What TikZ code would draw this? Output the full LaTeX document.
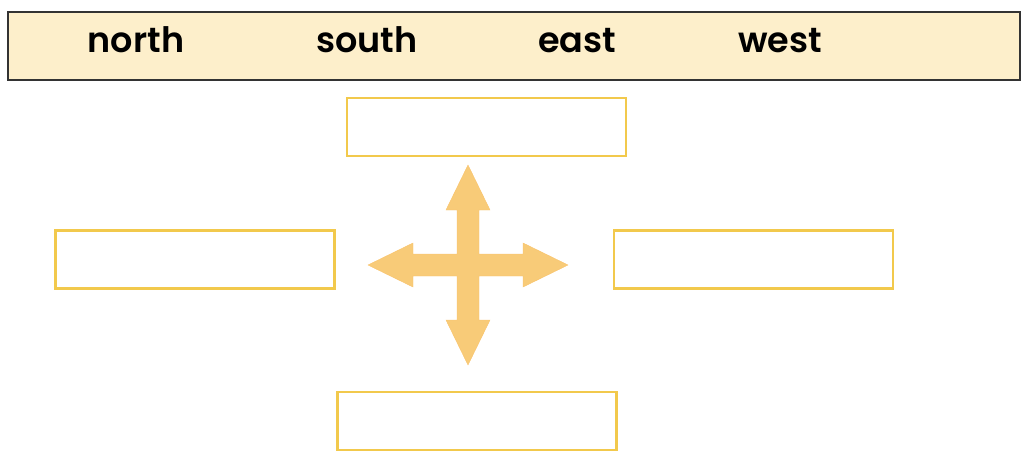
\documentclass[tikz,border=0pt]{standalone}
\usepackage{fontspec}
\setmainfont{Poppins}
\newfontfamily\labelfont{Poppins SemiBold}
\usetikzlibrary{positioning, calc}

\definecolor{bannerfill}{HTML}{FDEFCB}
\definecolor{boxline}{HTML}{F2C94C}
\definecolor{crossfill}{HTML}{F8CB78}

\begin{document}
\begin{tikzpicture}[x=1pt, y=-1pt]
\tikzset{
  banner/.style={draw=black!80, line width=1.3pt, fill=bannerfill, minimum width=1012pt, minimum height=68pt, inner sep=0pt},
  word/.style={anchor=base, inner sep=0pt, font=\labelfont\fontsize{35}{40}\selectfont},
  blank/.style={draw=boxline, line width=2.6pt, minimum width=279pt, minimum height=58pt, inner sep=0pt}
}
\useasboundingbox (0,0) rectangle (1022,450);

% header strip
\node[banner] (bar) at (514,46) {};
\node[word] (n) at (136,52) {north};
\node[word] (s) at (367,52) {south};
\node[word] (e) at (577,52) {east};
\node[word] (w) at (780,52) {west};

% empty answer boxes
\node[blank] (top)    at (486.5,127) {};
\node[blank] (left)   at (195,259.5) {};
\node[blank] (right)  at (753.5,259.5) {};
\node[blank] (bottom) at (477,421) {};

% four-way arrow
\coordinate (hub) at (468,265);
\fill[crossfill, draw=crossfill!90!orange, line width=0.4pt]
  ($(hub)+(0,-100)$) -- ++(22,45) -- ++(-11,0) -- ++(0,44) -- ++(44,0) -- ++(0,-11)
  -- ++(45,22) -- ++(-45,22) -- ++(0,-11) -- ++(-44,0) -- ++(0,44) -- ++(11,0)
  -- ++(-22,45) -- ++(-22,-45) -- ++(11,0) -- ++(0,-44) -- ++(-44,0) -- ++(0,11)
  -- ++(-45,-22) -- ++(45,-22) -- ++(0,11) -- ++(44,0) -- ++(0,-44) -- ++(-11,0) -- cycle;

\end{tikzpicture}
\end{document}
